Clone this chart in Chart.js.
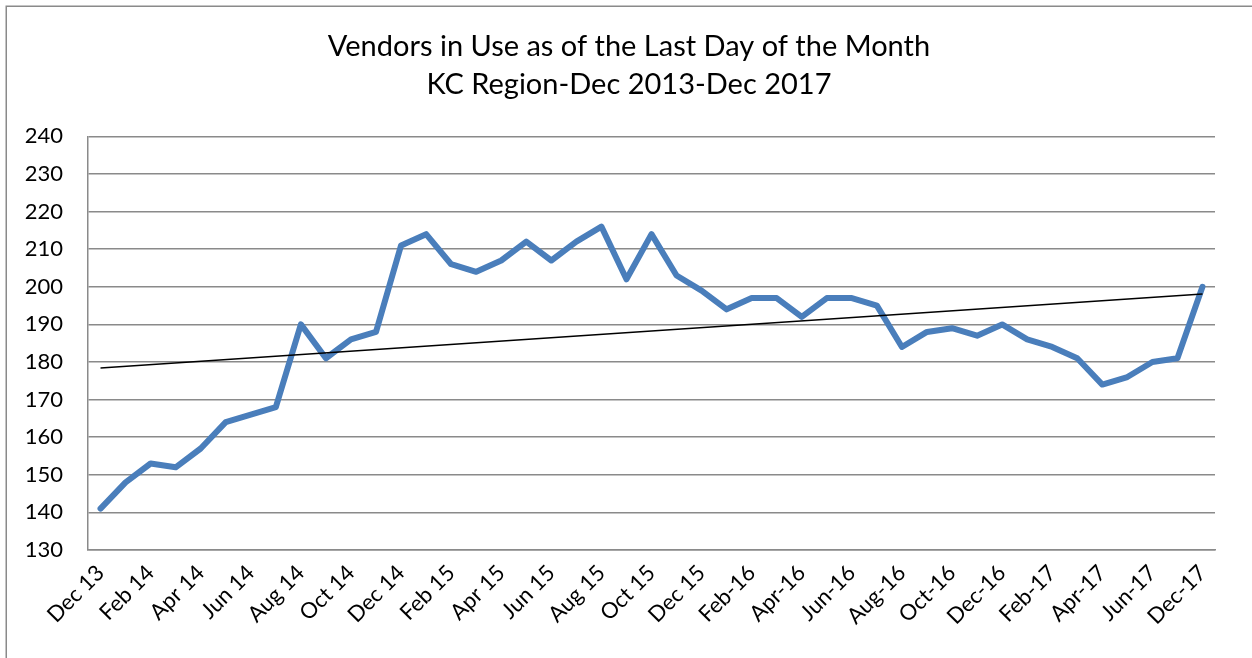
<!DOCTYPE html>
<html>
<head>
<meta charset="utf-8">
<script src="https://cdn.jsdelivr.net/npm/chart.js@4/dist/chart.umd.min.js"></script>
<style>
  html, body { margin: 0; padding: 0; background: #ffffff; }
  #wrap { position: relative; width: 1252px; height: 658px; }
  canvas { display: block; }
</style>
</head>
<body>
<div id="wrap"><canvas id="c" width="1252" height="658"></canvas></div>
<script>
const titleLines = ["Vendors in Use as of the Last Day of the Month", "KC Region-Dec 2013-Dec 2017"];

const categories = [
  "Dec 13", "Jan 14", "Feb 14", "Mar 14", "Apr 14", "May 14", "Jun 14", "Jul 14",
  "Aug 14", "Sep 14", "Oct 14", "Nov 14", "Dec 14", "Jan 15", "Feb 15", "Mar 15",
  "Apr 15", "May 15", "Jun 15", "Jul 15", "Aug 15", "Sep 15", "Oct 15", "Nov 15",
  "Dec 15", "Jan-16", "Feb-16", "Mar-16", "Apr-16", "May-16", "Jun-16", "Jul-16",
  "Aug-16", "Sep-16", "Oct-16", "Nov-16", "Dec-16", "Jan-17", "Feb-17", "Mar-17",
  "Apr-17", "May-17", "Jun-17", "Nov-17", "Dec-17"
];

const vendors = [
  141, 148, 153, 152, 157, 164, 166, 168,
  190, 181, 186, 188, 211, 214, 206, 204,
  207, 212, 207, 212, 216, 202, 214, 203,
  199, 194, 197, 197, 192, 197, 197, 195,
  184, 188, 189, 187, 190, 186, 184, 181,
  174, 176, 180, 181, 200
];

// Linear trendline end values (first and last category)
const trendEnds = [178.4, 198.1];

const yTicks = { min: 130, max: 240, step: 10 };

const trendData = categories.map((_, i) =>
  i === 0 ? trendEnds[0] : (i === categories.length - 1 ? trendEnds[1] : null));

const borderPlugin = {
  id: 'outerBorder',
  beforeDraw(chart) {
    const ctx = chart.ctx;
    ctx.save();
    ctx.strokeStyle = '#8a8a8a';
    ctx.lineWidth = 1.5;
    ctx.beginPath();
    ctx.moveTo(6.25, 700);
    ctx.lineTo(6.25, 6.25);
    ctx.lineTo(1260, 6.25);
    ctx.stroke();
    ctx.restore();
  }
};

const FONT = "Lato, 'Open Sans', sans-serif";

new Chart(document.getElementById('c'), {
  type: 'line',
  data: {
    labels: categories,
    datasets: [
      {
        label: 'Linear trend',
        data: trendData,
        borderColor: '#000000',
        borderWidth: 1.5,
        pointRadius: 0,
        spanGaps: true,
        tension: 0,
        order: 0
      },
      {
        label: 'Vendors',
        data: vendors,
        borderColor: '#4a7ebb',
        borderWidth: 6,
        pointRadius: 0,
        tension: 0,
        borderJoinStyle: 'round',
        borderCapStyle: 'round',
        order: 1
      }
    ]
  },
  options: {
    responsive: false,
    animation: false,
    devicePixelRatio: 1,
    layout: { padding: { left: 6, right: 0, top: 10, bottom: 0 } },
    plugins: {
      legend: { display: false },
      tooltip: { enabled: false },
      title: {
        display: true,
        text: titleLines,
        color: '#000000',
        font: { family: FONT, size: 29, weight: 'normal', lineHeight: 1.3 },
        padding: { top: 18, bottom: 33 }
      }
    },
    scales: {
      x: {
        type: 'category',
        offset: true,
        grid: { display: false, drawTicks: false },
        border: { display: true, color: '#8a8a8a', width: 1.5 },
        ticks: {
          autoSkip: false,
          maxRotation: 45,
          minRotation: 45,
          padding: 10,
          color: '#000000',
          font: { family: FONT, size: 22 },
          callback: function (val, idx) {
            return idx % 2 === 0 ? categories[idx] : '';
          }
        },
        afterFit(scale) { scale.height = 108; }
      },
      y: {
        min: yTicks.min,
        max: yTicks.max,
        grid: { color: '#8a8a8a', lineWidth: 1.5, drawTicks: false },
        border: { display: true, color: '#8a8a8a', width: 1.5 },
        ticks: {
          stepSize: yTicks.step,
          padding: 25,
          color: '#000000',
          font: { family: FONT, size: 22 }
        },
        afterFit(scale) { scale.width = 82; }
      },
      yRight: {
        position: 'right',
        min: yTicks.min,
        max: yTicks.max,
        grid: { display: false, drawTicks: false },
        border: { display: false },
        ticks: { display: false },
        afterFit(scale) { scale.width = 37; }
      }
    }
  },
  plugins: [borderPlugin]
});
</script>
</body>
</html>
